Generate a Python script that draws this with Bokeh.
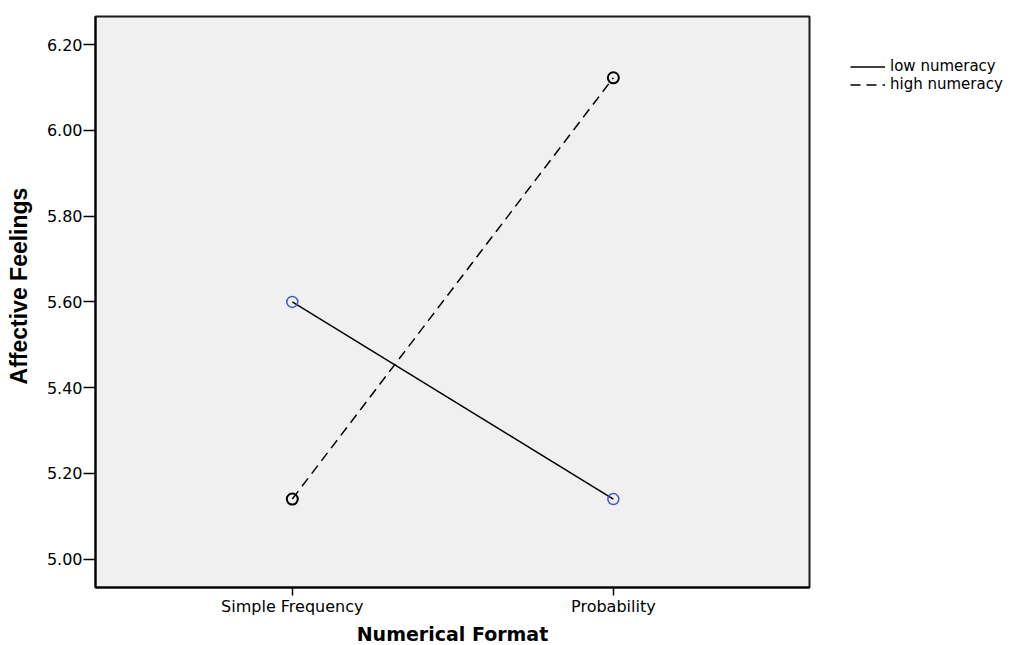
from bokeh.plotting import figure
from bokeh.models import Legend, LegendItem, FixedTicker, Range1d
from bokeh.embed import file_html
from bokeh.resources import INLINE

categories = ["Simple Frequency", "Probability"]
x_pos = [1, 2]
low_numeracy = [5.60, 5.14]
high_numeracy = [5.14, 6.123]
y_ticks = [5.00, 5.20, 5.40, 5.60, 5.80, 6.00, 6.20]

p = figure(frame_width=714, frame_height=571, output_backend="svg",
           toolbar_location=None,
           x_range=Range1d(0.387, 2.611), y_range=Range1d(4.9336, 6.266),
           min_border_left=95, min_border_right=0, min_border_top=16,
           min_border_bottom=20)
p.background_fill_color = "#f0f0f0"
p.border_fill_color = "white"
p.outline_line_color = "#1a1a1a"
p.outline_line_width = 2
p.grid.visible = False

font = "DejaVu Sans"

# x axis
p.xaxis.ticker = FixedTicker(ticks=x_pos)
p.xaxis.major_label_overrides = {x: c for x, c in zip(x_pos, categories)}
p.xaxis.minor_tick_line_color = None
p.xaxis.major_tick_out = 8
p.xaxis.major_tick_in = 0
p.xaxis.major_tick_line_width = 1.5
p.xaxis.major_label_standoff = 1
p.xaxis.major_label_text_font = font
p.xaxis.major_label_text_font_size = "16px"
p.xaxis.major_label_text_color = "black"
p.xaxis.axis_line_color = "black"
p.xaxis.axis_line_width = 2
p.xaxis.axis_label = "Numerical Format"
p.xaxis.axis_label_text_font = font
p.xaxis.axis_label_text_font_style = "bold"
p.xaxis.axis_label_text_font_size = "19px"
p.xaxis.axis_label_standoff = 4
p.xaxis.axis_label_text_color = "black"

# y axis
p.yaxis.ticker = FixedTicker(ticks=y_ticks)
p.yaxis.major_label_overrides = {t: f"{t:.2f}" for t in y_ticks}
p.yaxis.minor_tick_line_color = None
p.yaxis.major_tick_out = 12
p.yaxis.major_tick_in = 0
p.yaxis.major_tick_line_width = 1.5
p.yaxis.major_label_standoff = 1
p.yaxis.major_label_text_font = font
p.yaxis.major_label_text_font_size = "16px"
p.yaxis.major_label_text_color = "black"
p.yaxis.axis_line_color = "black"
p.yaxis.axis_line_width = 2
p.yaxis.axis_label = "\u00a0\u00a0\u00a0\u00a0\u00a0Affective Feelings"
p.yaxis.axis_label_text_font = "Liberation Sans"
p.yaxis.axis_label_text_font_style = "bold"
p.yaxis.axis_label_text_font_size = "23px"
p.yaxis.axis_label_standoff = 12
p.yaxis.axis_label_text_color = "black"

r_low = p.line(x_pos, low_numeracy, line_color="black", line_width=1.5)
r_high = p.line(x_pos, high_numeracy, line_color="black", line_width=1.5,
                line_dash="10 6")
p.scatter(x_pos, low_numeracy, marker="circle", size=11, fill_color=None,
          line_color="#4257c4", line_width=1.5)
p.scatter(x_pos, high_numeracy, marker="circle", size=11, fill_color=None,
          line_color="black", line_width=2)

legend = Legend(items=[LegendItem(label="low numeracy", renderers=[r_low]),
                       LegendItem(label="high numeracy", renderers=[r_high])],
                location="top_left",
                glyph_width=35, glyph_height=17, label_height=17,
                label_standoff=5, spacing=0, padding=0, margin=41,
                border_line_color=None, background_fill_alpha=0,
                label_text_font=font, label_text_font_size="15px",
                label_text_color="black")
p.add_layout(legend, "right")

open("out.html", "w").write(file_html(p, INLINE))
